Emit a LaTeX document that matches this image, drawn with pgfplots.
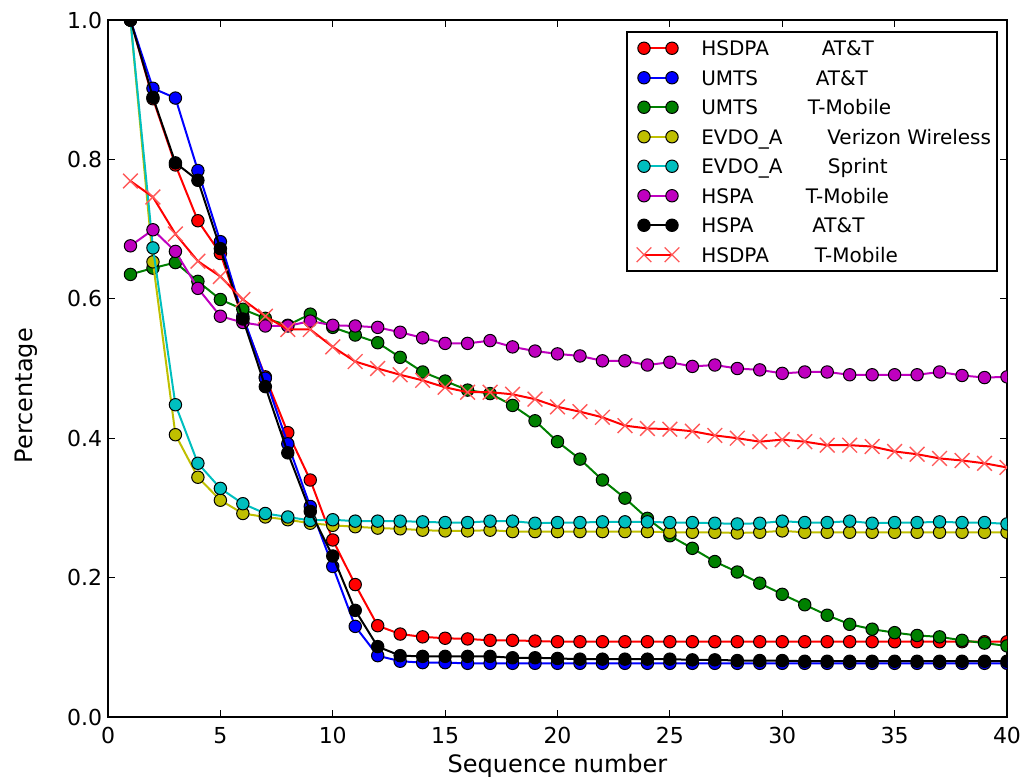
\documentclass[border=0pt]{standalone}
\usepackage{fontspec}
\setmainfont{DejaVu Sans}
\usepackage{pgfplots}
\pgfplotsset{compat=1.18}

\definecolor{mplred}{rgb}{1,0,0}
\definecolor{mplblue}{rgb}{0,0,1}
\definecolor{mplgreen}{rgb}{0,0.5,0}
\definecolor{mplyellow}{rgb}{0.75,0.75,0}
\definecolor{mplcyan}{rgb}{0,0.75,0.75}
\definecolor{mplmagenta}{rgb}{0.75,0,0.75}

\pgfplotsset{
  ser/.style={color=#1, line width=1pt, mark=*, mark size=3.1pt,
    mark options={solid, fill=#1, draw=black, line width=0.5pt}},
}

\begin{document}
\begin{tikzpicture}
\begin{axis}[
  scale only axis,
  width=449.5pt, height=348.5pt,
  xmin=0, xmax=40, ymin=0, ymax=1,
  clip marker paths=true,
  xtick={0,5,...,40},
  ytick={0,0.2,0.4,0.6,0.8,1.0},
  /pgf/number format/assume math mode=true,
  ticklabel style={font=\fontsize{11}{13}\selectfont},
  xticklabel style={yshift=-1.6pt},
  yticklabel style={xshift=0.6pt, /pgf/number format/fixed,
    /pgf/number format/fixed zerofill, /pgf/number format/precision=1},
  tick align=inside,
  major tick length=3.4pt,
  every tick/.style={black, line width=0.5pt},
  axis line style={black, line width=1pt},
  every axis x label/.style={at={(axis description cs:0.5,-0.0798)}, anchor=base,
    font=\fontsize{12}{14}\selectfont},
  every axis y label/.style={at={(axis description cs:-0.0838,0.461)}, rotate=90, anchor=base,
    font=\fontsize{12}{14}\selectfont},
  xlabel={Sequence number},
  ylabel={Percentage},
  legend cell align=left,
  legend style={at={(rel axis cs:0.990,0.984)}, anchor=north east,
    draw=black, line width=1pt, fill=white,
    font=\fontsize{10}{12}\selectfont,
    inner xsep=3pt, inner ysep=3.2pt, row sep=5.05pt,
    nodes={inner sep=0pt, text height=8.5pt, text depth=1.2pt},
    /tikz/every odd column/.append style={column sep=11pt}},
  legend image code/.code={
    \path (0pt,0pt) (22pt,0pt);
    \draw[#1] plot coordinates {(5pt,0pt) (19pt,0pt)};
  },
]

% HSDPA, AT&T
\addplot[ser=mplred] coordinates {
(1,1.0) (2,0.887) (3,0.792) (4,0.712) (5,0.665) (6,0.572) (7,0.488) (8,0.408)
(9,0.340) (10,0.254) (11,0.190) (12,0.131) (13,0.119) (14,0.115) (15,0.113)
(16,0.112) (17,0.110) (18,0.110) (19,0.109) (20,0.108) (21,0.108) (22,0.108)
(23,0.108) (24,0.108) (25,0.108) (26,0.108) (27,0.108) (28,0.108) (29,0.108)
(30,0.108) (31,0.108) (32,0.108) (33,0.108) (34,0.108) (35,0.108) (36,0.108)
(37,0.108) (38,0.108) (39,0.108) (40,0.108)};
\addlegendentry{\makebox[60.2pt][l]{HSDPA}AT\&T}

% UMTS, AT&T
\addplot[ser=mplblue] coordinates {
(1,1.0) (2,0.902) (3,0.888) (4,0.784) (5,0.682) (6,0.575) (7,0.486) (8,0.392)
(9,0.302) (10,0.216) (11,0.130) (12,0.088) (13,0.080) (14,0.078) (15,0.078)
(16,0.077) (17,0.077) (18,0.077) (19,0.077) (20,0.077) (21,0.077) (22,0.077)
(23,0.077) (24,0.077) (25,0.077) (26,0.077) (27,0.077) (28,0.077) (29,0.077)
(30,0.077) (31,0.077) (32,0.077) (33,0.077) (34,0.077) (35,0.077) (36,0.077)
(37,0.077) (38,0.077) (39,0.077) (40,0.077)};
\addlegendentry{\makebox[57.2pt][l]{UMTS}AT\&T}

% UMTS, T-Mobile
\addplot[ser=mplgreen] coordinates {
(1,0.635) (2,0.644) (3,0.652) (4,0.625) (5,0.599) (6,0.585) (7,0.572) (8,0.562)
(9,0.578) (10,0.559) (11,0.548) (12,0.537) (13,0.516) (14,0.495) (15,0.482)
(16,0.469) (17,0.464) (18,0.447) (19,0.425) (20,0.395) (21,0.370) (22,0.340)
(23,0.314) (24,0.285) (25,0.260) (26,0.242) (27,0.223) (28,0.208) (29,0.192)
(30,0.176) (31,0.161) (32,0.146) (33,0.133) (34,0.126) (35,0.121) (36,0.117)
(37,0.115) (38,0.110) (39,0.106) (40,0.102)};
\addlegendentry{\makebox[53.3pt][l]{UMTS}T-Mobile}

% EVDO_A, Verizon Wireless
\addplot[ser=mplyellow] coordinates {
(1,1.0) (2,0.653) (3,0.405) (4,0.344) (5,0.311) (6,0.292) (7,0.287) (8,0.283)
(9,0.278) (10,0.275) (11,0.273) (12,0.271) (13,0.270) (14,0.268) (15,0.267)
(16,0.267) (17,0.268) (18,0.266) (19,0.266) (20,0.266) (21,0.266) (22,0.266)
(23,0.266) (24,0.266) (25,0.265) (26,0.265) (27,0.265) (28,0.264) (29,0.265)
(30,0.267) (31,0.265) (32,0.265) (33,0.265) (34,0.265) (35,0.265) (36,0.265)
(37,0.265) (38,0.265) (39,0.265) (40,0.265)};
\addlegendentry{\makebox[63pt][l]{EVDO\_A}Verizon Wireless}

% EVDO_A, Sprint
\addplot[ser=mplcyan] coordinates {
(1,1.0) (2,0.673) (3,0.448) (4,0.364) (5,0.328) (6,0.306) (7,0.292) (8,0.287)
(9,0.282) (10,0.283) (11,0.281) (12,0.281) (13,0.281) (14,0.280) (15,0.279)
(16,0.279) (17,0.281) (18,0.281) (19,0.278) (20,0.279) (21,0.279) (22,0.280)
(23,0.280) (24,0.280) (25,0.279) (26,0.279) (27,0.278) (28,0.277) (29,0.278)
(30,0.281) (31,0.279) (32,0.279) (33,0.281) (34,0.278) (35,0.279) (36,0.279)
(37,0.280) (38,0.279) (39,0.279) (40,0.277)};
\addlegendentry{\makebox[63.3pt][l]{EVDO\_A}Sprint}

% HSPA, T-Mobile
\addplot[ser=mplmagenta] coordinates {
(1,0.676) (2,0.699) (3,0.668) (4,0.615) (5,0.575) (6,0.566) (7,0.561) (8,0.561)
(9,0.568) (10,0.562) (11,0.561) (12,0.559) (13,0.552) (14,0.544) (15,0.536)
(16,0.536) (17,0.540) (18,0.531) (19,0.525) (20,0.521) (21,0.518) (22,0.511)
(23,0.511) (24,0.505) (25,0.509) (26,0.503) (27,0.505) (28,0.500) (29,0.498)
(30,0.493) (31,0.495) (32,0.495) (33,0.491) (34,0.491) (35,0.491) (36,0.491)
(37,0.495) (38,0.490) (39,0.487) (40,0.488)};
\addlegendentry{\makebox[52.2pt][l]{HSPA}T-Mobile}

% HSPA, AT&T
\addplot[ser=black] coordinates {
(1,1.0) (2,0.889) (3,0.795) (4,0.770) (5,0.672) (6,0.571) (7,0.474) (8,0.379)
(9,0.295) (10,0.231) (11,0.153) (12,0.101) (13,0.088) (14,0.087) (15,0.087)
(16,0.087) (17,0.087) (18,0.085) (19,0.085) (20,0.084) (21,0.083) (22,0.083)
(23,0.083) (24,0.083) (25,0.083) (26,0.082) (27,0.082) (28,0.081) (29,0.081)
(30,0.081) (31,0.080) (32,0.080) (33,0.080) (34,0.080) (35,0.080) (36,0.080)
(37,0.080) (38,0.080) (39,0.080) (40,0.080)};
\addlegendentry{\makebox[55.5pt][l]{HSPA}AT\&T}

% HSDPA, T-Mobile
\addplot[color=mplred, line width=1pt, mark=x, mark size=5.2pt,
  mark options={solid, draw=mplred!65!white, line width=0.7pt}] coordinates {
(1,0.769) (2,0.746) (3,0.693) (4,0.654) (5,0.632) (6,0.599) (7,0.575) (8,0.556)
(9,0.556) (10,0.531) (11,0.510) (12,0.500) (13,0.491) (14,0.483) (15,0.473)
(16,0.466) (17,0.466) (18,0.463) (19,0.456) (20,0.445) (21,0.438) (22,0.430)
(23,0.418) (24,0.414) (25,0.413) (26,0.410) (27,0.404) (28,0.400) (29,0.395)
(30,0.398) (31,0.395) (32,0.390) (33,0.390) (34,0.388) (35,0.381) (36,0.377)
(37,0.371) (38,0.368) (39,0.364) (40,0.358)};
\addlegendentry{\makebox[56.7pt][l]{HSDPA}T-Mobile}

\coordinate (lowleft) at (rel axis cs:0,0);
\coordinate (upright) at (rel axis cs:1,1);
\end{axis}
\pgfresetboundingbox
\path ([shift={(-54pt,-33pt)}]lowleft) rectangle ([shift={(11pt,10pt)}]upright);
\end{tikzpicture}
\end{document}
